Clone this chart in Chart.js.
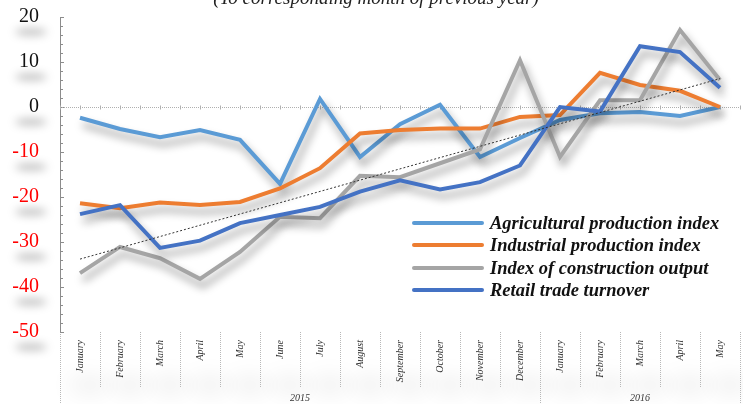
<!DOCTYPE html>
<html>
<head>
<meta charset="utf-8">
<script src="https://cdn.jsdelivr.net/npm/chart.js@4"></script>
<style>
  html, body { margin: 0; padding: 0; background: #fff; overflow: hidden; }
  #wrap { position: relative; width: 743px; height: 404px; }
</style>
</head>
<body>
<div id="wrap"><canvas id="chart"></canvas></div>
<script>
// Data
const months = ["January", "February", "March", "April", "May", "June", "July", "August",
  "September", "October", "November", "December",
  "January", "February", "March", "April", "May"];
const years = ["2015", "2016"];
const yearSpans = [12, 5];

const agricultural = [-2.4, -4.9, -6.7, -5.1, -7.3, -17.1, 1.8, -11.1, -3.8, 0.5, -11.1, -6.9, -2.9, -1.4, -1.1, -2.0, 0];
const industrial = [-21.4, -22.5, -21.2, -21.8, -21.1, -18.1, -13.6, -5.9, -5.1, -4.8, -4.8, -2.2, -1.8, 7.6, 4.9, 3.6, 0];
const construction = [-36.9, -31.1, -33.6, -38.2, -32.2, -24.4, -24.7, -15.3, -15.6, -12.5, -9.4, 10.4, -11.1, 1.5, 1.5, 17.1, 6.0];
const retail = [-23.8, -21.8, -31.3, -29.7, -25.8, -24.0, -22.2, -18.8, -16.3, -18.3, -16.7, -13.0, 0, -1.0, 13.5, 12.2, 4.3];
const trend = [-33.8, null, null, null, null, null, null, null, null, null, null, null, null, null, null, null, 6.3];

const seriesNames = ["Agricultural production index", "Industrial production index",
  "Index of construction output", "Retail trade turnover"];
const colors = ["#5B9BD5", "#ED7D31", "#A5A5A5", "#4472C4"];

const serif = "'Liberation Serif', 'Times New Roman', serif";

// extra drawing: title, shadows, separators, legend
const decor = {
  id: "decor",
  beforeDraw(chart) {
    const ctx = chart.ctx;
    const a = chart.chartArea;
    const y = chart.scales.y;
    const x = chart.scales.x;
    ctx.save();
    // title (cut off at the top)
    ctx.fillStyle = "#222";
    ctx.font = "italic 19px " + serif;
    ctx.textAlign = "center";
    ctx.textBaseline = "alphabetic";
    ctx.fillText("(To corresponding month of previous year)", 376, 4);

    // blurry shadows under the y labels
    ctx.filter = "blur(4px)";
    ctx.fillStyle = "rgba(0,0,0,0.22)";
    for (let v = 20; v >= -50; v -= 10) {
      const py = y.getPixelForValue(v) + 15;
      ctx.beginPath();
      ctx.ellipse(31, py, 16, 4, 0, 0, Math.PI * 2);
      ctx.fill();
    }
    // faint blurs under month labels
    ctx.filter = "blur(10px)";
    ctx.fillStyle = "rgba(0,0,0,0.05)";
    months.forEach((m, i) => {
      const px = x.getPixelForValue(i);
      ctx.beginPath();
      ctx.ellipse(px + 10, 385, 22, 10, 0, 0, Math.PI * 2);
      ctx.fill();
    });
    ctx.filter = "none";

    // vertical separators under the x axis
    ctx.strokeStyle = "#b8b8b8";
    ctx.lineWidth = 1;
    ctx.setLineDash([1, 1]);
    const step = (a.right - a.left) / months.length;
    for (let k = 0; k <= months.length; k++) {
      const px = Math.round(a.left + step * k) + 0.5;
      const long = (k === 0 || k === yearSpans[0] || k === months.length);
      ctx.beginPath();
      ctx.moveTo(px, a.bottom);
      ctx.lineTo(px, long ? 404 : 387);
      ctx.stroke();
    }
    ctx.setLineDash([]);

    // year labels
    ctx.fillStyle = "#333";
    ctx.font = "italic 10px " + serif;
    ctx.textAlign = "center";
    ctx.textBaseline = "middle";
    let start = 0;
    years.forEach((yr, i) => {
      const x0 = a.left + step * start;
      const x1 = a.left + step * (start + yearSpans[i]);
      ctx.fillText(yr, (x0 + x1) / 2, 398);
      start += yearSpans[i];
    });

    // y axis line and minor ticks
    ctx.strokeStyle = "#8c8c8c";
    ctx.beginPath();
    ctx.moveTo(a.left + 0.5, a.top);
    ctx.lineTo(a.left + 0.5, a.bottom);
    for (let v = 20; v >= -50; v -= 2) {
      const py = Math.round(y.getPixelForValue(v)) + 0.5;
      ctx.moveTo(a.left, py);
      ctx.lineTo(a.left + (v % 10 === 0 ? 4 : 3), py);
    }
    ctx.stroke();

    // zero line, dotted with small marks
    const zy = Math.round(y.getPixelForValue(0)) + 0.5;
    ctx.strokeStyle = "#b0b0b0";
    ctx.setLineDash([1, 1]);
    ctx.beginPath();
    ctx.moveTo(a.left, zy);
    ctx.lineTo(a.right, zy);
    ctx.stroke();
    ctx.setLineDash([]);
    ctx.beginPath();
    for (let k = 0; k <= months.length * 2; k++) {
      const px = Math.round(a.left + step / 2 * k) + 0.5;
      ctx.moveTo(px, zy - 2);
      ctx.lineTo(px, zy + 2);
    }
    ctx.stroke();
    ctx.restore();
  },
  beforeDatasetDraw(chart, args) {
    const ctx = chart.ctx;
    ctx.save();
    if (args.index < 4) {
      ctx.shadowColor = "rgba(0,0,0,0.4)";
      ctx.shadowBlur = 8;
      ctx.shadowOffsetX = 3;
      ctx.shadowOffsetY = 7;
    }
  },
  afterDatasetDraw(chart) {
    chart.ctx.restore();
  },
  afterDraw(chart) {
    const ctx = chart.ctx;
    ctx.save();
    ctx.font = "bold italic 18.5px " + serif;
    ctx.textAlign = "left";
    ctx.textBaseline = "middle";
    const rows = [223, 245, 268, 290];
    seriesNames.forEach((name, i) => {
      ctx.strokeStyle = colors[i];
      ctx.lineWidth = 4;
      ctx.lineCap = "round";
      ctx.beginPath();
      ctx.moveTo(414, rows[i]);
      ctx.lineTo(482, rows[i]);
      ctx.stroke();
      ctx.fillStyle = "#111";
      ctx.fillText(name, 490, rows[i] + 1);
    });
    ctx.restore();
  }
};

const lineSets = [agricultural, industrial, construction, retail].map((d, i) => ({
  label: seriesNames[i],
  data: d,
  borderColor: colors[i],
  backgroundColor: colors[i],
  borderWidth: 4,
  pointRadius: 0,
  tension: 0,
  fill: false,
  order: 4 - i
}));

const ctx = document.getElementById("chart").getContext("2d");

const chart = new Chart(ctx, {
  type: "line",
  data: {
    labels: months,
    datasets: lineSets.concat([{
      label: "Trend",
      data: trend,
      borderColor: "#333",
      borderWidth: 1,
      borderDash: [2, 2],
      pointRadius: 0,
      spanGaps: true,
      fill: false,
      order: 0
    }])
  },
  options: {
    responsive: true,
    maintainAspectRatio: false,
    animation: false,
    devicePixelRatio: 1,
    layout: { padding: { top: 17, right: 3, left: 0, bottom: 0 } },
    plugins: {
      legend: { display: false },
      tooltip: { enabled: false },
      title: { display: false }
    },
    scales: {
      x: {
        offset: true,
        grid: { display: false, drawTicks: false },
        border: { display: false },
        ticks: {
          minRotation: 90,
          maxRotation: 90,
          autoSkip: false,
          padding: 8,
          color: "#333",
          font: { family: serif, size: 10, style: "italic" }
        },
        afterFit: s => { s.height = 72; s.paddingLeft = 0; s.paddingRight = 0; }
      },
      y: {
        min: -50,
        max: 20,
        grid: { display: false, drawTicks: false },
        border: { display: false },
        ticks: {
          stepSize: 10,
          padding: 21,
          color: c => (c.tick && c.tick.value < 0 ? "#ff0000" : "#111"),
          font: { family: serif, size: 20 }
        },
        afterFit: s => { s.width = 60; s.paddingTop = 0; s.paddingBottom = 0; }
      }
    }
  },
  plugins: [decor]
});
</script>
</body>
</html>
